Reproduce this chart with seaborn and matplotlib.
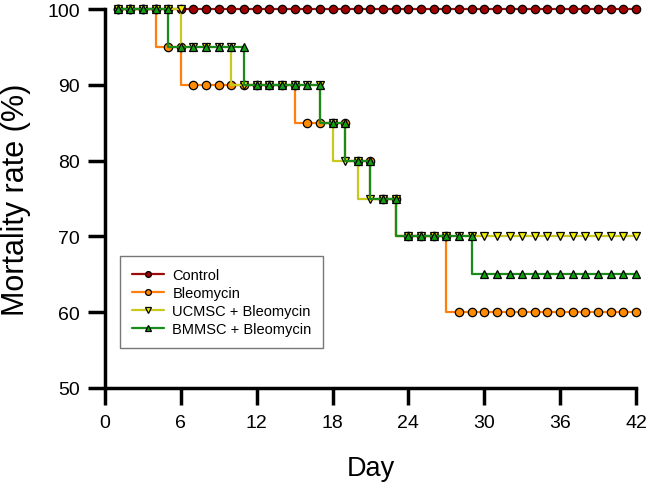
import pandas as pd
import seaborn as sns
import matplotlib
matplotlib.use("Agg")
import matplotlib.pyplot as plt

sns.set_style("ticks")
plt.rcParams['font.family'] = ['Liberation Sans', 'DejaVu Sans']
plt.rcParams['text.color'] = 'black'
plt.rcParams['axes.labelcolor'] = 'black'
plt.rcParams['xtick.color'] = 'black'
plt.rcParams['ytick.color'] = 'black'

#data (one value per day)
days = list(range(1, 43))
control = [100, 100, 100, 100, 100, 100, 100, 100, 100, 100,
           100, 100, 100, 100, 100, 100, 100, 100, 100, 100,
           100, 100, 100, 100, 100, 100, 100, 100, 100, 100,
           100, 100, 100, 100, 100, 100, 100, 100, 100, 100,
           100, 100]
bleomycin = [100, 100, 100, 100, 95, 95, 90, 90, 90, 90,
             90, 90, 90, 90, 90, 85, 85, 85, 85, 80,
             80, 75, 75, 70, 70, 70, 70, 60, 60, 60,
             60, 60, 60, 60, 60, 60, 60, 60, 60, 60,
             60, 60]
ucmsc = [100, 100, 100, 100, 100, 100, 95, 95, 95, 95,
         90, 90, 90, 90, 90, 90, 90, 85, 80, 80,
         75, 75, 75, 70, 70, 70, 70, 70, 70, 70,
         70, 70, 70, 70, 70, 70, 70, 70, 70, 70,
         70, 70]
bmmsc = [100, 100, 100, 100, 100, 95, 95, 95, 95, 95,
         95, 90, 90, 90, 90, 90, 90, 85, 85, 80,
         80, 75, 75, 70, 70, 70, 70, 70, 70, 65,
         65, 65, 65, 65, 65, 65, 65, 65, 65, 65,
         65, 65]

groups = ['Control', 'Bleomycin', 'UCMSC + Bleomycin', 'BMMSC + Bleomycin']
series = [control, bleomycin, ucmsc, bmmsc]
line_colors = ['#9b0d0d', '#ff7f0e', '#c8c81e', '#1a8a1a']
fill_colors = ['#a00000', '#ff8c00', '#f0f000', '#10a010']
markers = ['o', 'o', 'v', '^']

fig = plt.figure(figsize=(6.46, 4.89), dpi=100)
ax = fig.add_axes([0.1625, 0.2045, 0.822, 0.775])

for name, vals, lc, fc, mk in zip(groups, series, line_colors, fill_colors, markers):
    df = pd.DataFrame({'Day': days, 'Mortality': vals})
    sns.lineplot(data=df, x='Day', y='Mortality', ax=ax, color=lc,
                 drawstyle='steps-pre', linewidth=1.6, marker=mk,
                 markersize=6, markerfacecolor=fc, markeredgecolor='black',
                 markeredgewidth=0.9, label=name, clip_on=False, errorbar=None)

ax.set_xlim(0, 42)
ax.set_ylim(50, 100)
ax.set_xticks(range(0, 43, 6))
ax.set_yticks(range(50, 101, 10))
ax.set_xlabel('Day', fontsize=19.5)
ax.set_ylabel('Mortality rate (%)', fontsize=22)
ax.xaxis.set_label_coords(0.5, -0.177)
ax.yaxis.set_label_coords(-0.14, 0.5)
ax.tick_params(axis='both', labelsize=14, width=2.5, length=12, color='black')
ax.tick_params(axis='x', pad=7)
ax.tick_params(axis='y', pad=6)
for s in ['top', 'right']:
    ax.spines[s].set_visible(False)
for s in ['left', 'bottom']:
    ax.spines[s].set_linewidth(2.5)
    ax.spines[s].set_color('black')

leg = ax.legend(loc='upper left', bbox_to_anchor=(0.028, 0.348), borderaxespad=0,
                fontsize=10.5, frameon=True, fancybox=False, edgecolor='#555555',
                handlelength=2.2, handletextpad=0.6, labelspacing=0.28,
                markerscale=0.7, borderpad=0.8)
leg.get_frame().set_linewidth(1.0)

plt.savefig('out.png', dpi=100)
